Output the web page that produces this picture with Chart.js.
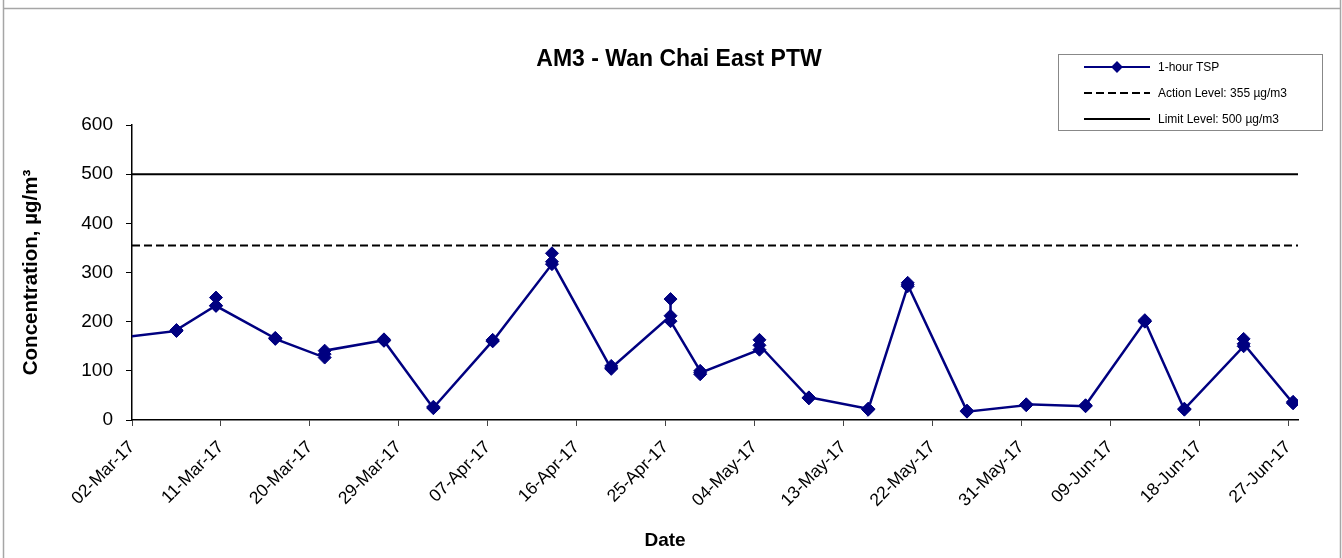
<!DOCTYPE html>
<html>
<head>
<meta charset="utf-8">
<title>AM3 - Wan Chai East PTW</title>
<script src="https://cdn.jsdelivr.net/npm/chart.js@4.4.1/dist/chart.umd.min.js"></script>
<style>
  html, body { margin: 0; padding: 0; background: #fff; }
  #wrap { width: 1342px; height: 558px; }
</style>
</head>
<body>
<div id="wrap"><canvas id="chart" width="1342" height="558"></canvas></div>
<script>
// axis ticks (one every 9 days) and the end of the date axis
const tickLabels = ['02-Mar-17', '11-Mar-17', '20-Mar-17', '29-Mar-17', '07-Apr-17', '16-Apr-17',
  '25-Apr-17', '04-May-17', '13-May-17', '22-May-17', '31-May-17', '09-Jun-17', '18-Jun-17', '27-Jun-17'];
const axisEnd = '28-Jun-17';
const yTicks = [0, 100, 200, 300, 400, 500, 600];

// sampling days, three 1-hour TSP readings each (µg/m3)
const sampleDates = ['28-Feb-17', '06-Mar-17', '10-Mar-17', '16-Mar-17', '21-Mar-17', '27-Mar-17',
  '01-Apr-17', '07-Apr-17', '13-Apr-17', '19-Apr-17', '25-Apr-17', '28-Apr-17', '04-May-17',
  '09-May-17', '15-May-17', '19-May-17', '25-May-17', '31-May-17', '06-Jun-17', '12-Jun-17',
  '16-Jun-17', '22-Jun-17', '27-Jun-17'];
const tspReadings = [
  [160, 165, 167], [181, 182, 183], [233, 249, 232], [166, 167, 165], [127, 134, 141], [162, 164, 161],
  [24, 27, 25], [161, 163, 160], [317, 339, 322], [104, 110, 106], [212, 246, 201], [100, 93, 96],
  [143, 163, 152], [45, 44, 46], [23, 22, 21], [272, 279, 275], [18, 19, 17], [30, 31, 32],
  [28, 29, 30], [200, 203, 201], [21, 23, 22], [150, 165, 155], [34, 37, 35]
];

const actionLevel = 355;
const limitLevel = 500;

const MONTHS = { Jan: 0, Feb: 1, Mar: 2, Apr: 3, May: 4, Jun: 5, Jul: 6, Aug: 7, Sep: 8, Oct: 9, Nov: 10, Dec: 11 };
function dayNum(s) {
  const [d, m, y] = s.split('-');
  return Date.UTC(2000 + Number(y), MONTHS[m], Number(d)) / 864e5;
}
const start = dayNum(tickLabels[0]);
const xMax = dayNum(axisEnd) - start;
const tickDays = tickLabels.map(t => dayNum(t) - start);

// excel puts each day's points in the middle of the day slot
const tspPoints = [];
sampleDates.forEach((d, i) => {
  tspReadings[i].forEach(v => tspPoints.push({ x: dayNum(d) - start + 0.5, y: v }));
});

const FONT = 'Arial, "Liberation Sans", sans-serif';

// title, legend box, "Date" and the outer frame
const decor = {
  id: 'decor',
  afterDraw(chart) {
    const ctx = chart.ctx;
    ctx.save();
    ctx.strokeStyle = '#a6a6a6';
    ctx.lineWidth = 1.5;
    ctx.beginPath();
    ctx.moveTo(3.5, 0); ctx.lineTo(3.5, 558);
    ctx.moveTo(3, 8.5); ctx.lineTo(1341, 8.5);
    ctx.moveTo(1340.5, 0); ctx.lineTo(1340.5, 558);
    ctx.stroke();

    ctx.fillStyle = '#000';
    ctx.textAlign = 'center';
    ctx.textBaseline = 'middle';
    ctx.font = 'bold 23px ' + FONT;
    ctx.fillText('AM3 - Wan Chai East PTW', 679, 60);
    ctx.font = 'bold 19px ' + FONT;
    ctx.fillText('Date', 665, 541);

    // legend
    ctx.strokeStyle = '#888';
    ctx.lineWidth = 1;
    ctx.strokeRect(1058.5, 54.5, 264, 76);
    ctx.font = '12px ' + FONT;
    ctx.textAlign = 'left';
    chart.data.datasets.forEach((ds, i) => {
      const y = 67 + i * 26;
      ctx.strokeStyle = ds.borderColor;
      ctx.lineWidth = 2;
      ctx.setLineDash(ds.borderDash || []);
      ctx.beginPath();
      ctx.moveTo(1084, y); ctx.lineTo(1150, y);
      ctx.stroke();
      ctx.setLineDash([]);
      if (ds.pointRadius) {
        ctx.fillStyle = ds.pointBackgroundColor;
        Chart.helpers.drawPoint(ctx, { pointStyle: ds.pointStyle, radius: 4.5, borderWidth: 1 }, 1117, y);
      }
      ctx.fillStyle = '#000';
      ctx.fillText(ds.label, 1158, y + 1);
    });
    ctx.restore();
  }
};

new Chart(document.getElementById('chart'), {
  type: 'line',
  data: {
    datasets: [
      {
        label: '1-hour TSP',
        data: tspPoints,
        borderColor: '#000080',
        backgroundColor: '#000080',
        pointBackgroundColor: '#000080',
        pointBorderColor: '#000080',
        borderWidth: 2.5,
        pointStyle: 'rectRot',
        pointRadius: 6.5,
        pointBorderWidth: 1,
        order: 0
      },
      {
        label: 'Action Level: ' + actionLevel + ' µg/m3',
        data: [{ x: 0, y: actionLevel }, { x: xMax, y: actionLevel }],
        borderColor: '#000',
        borderWidth: 2,
        borderDash: [8, 4],
        pointRadius: 0,
        order: 1
      },
      {
        label: 'Limit Level: ' + limitLevel + ' µg/m3',
        data: [{ x: 0, y: limitLevel }, { x: xMax, y: limitLevel }],
        borderColor: '#000',
        borderWidth: 2,
        pointRadius: 0,
        order: 2
      }
    ]
  },
  options: {
    responsive: false,
    animation: false,
    layout: { padding: { left: 0, top: 125, right: 44, bottom: 0 } },
    plugins: {
      legend: { display: false },
      tooltip: { enabled: false }
    },
    scales: {
      x: {
        type: 'linear',
        min: 0,
        max: xMax,
        afterBuildTicks: scale => { scale.ticks = tickDays.map(v => ({ value: v })); },
        afterFit: scale => { scale.height = 138; },
        ticks: {
          autoSkip: false,
          maxRotation: 45,
          minRotation: 45,
          padding: 11,
          color: '#000',
          font: { family: FONT, size: 17.5 },
          callback: (v, i) => tickLabels[i]
        },
        grid: { drawOnChartArea: false, tickLength: 6, color: '#444' },
        border: { color: '#000', width: 1.5 }
      },
      y: {
        min: 0,
        max: 600,
        afterBuildTicks: scale => { scale.ticks = yTicks.map(v => ({ value: v })); },
        afterFit: scale => { scale.width = 132; },
        ticks: {
          padding: 13,
          color: '#000',
          font: { family: FONT, size: 19 }
        },
        grid: { drawOnChartArea: false, tickLength: 6, color: '#000' },
        border: { color: '#000', width: 1.5 },
        title: {
          display: true,
          text: 'Concentration, µg/m³',
          color: '#000',
          font: { family: FONT, size: 20.5, weight: 'bold' },
          padding: { top: 19, bottom: 0 }
        }
      }
    }
  },
  plugins: [decor]
});
</script>
</body>
</html>
